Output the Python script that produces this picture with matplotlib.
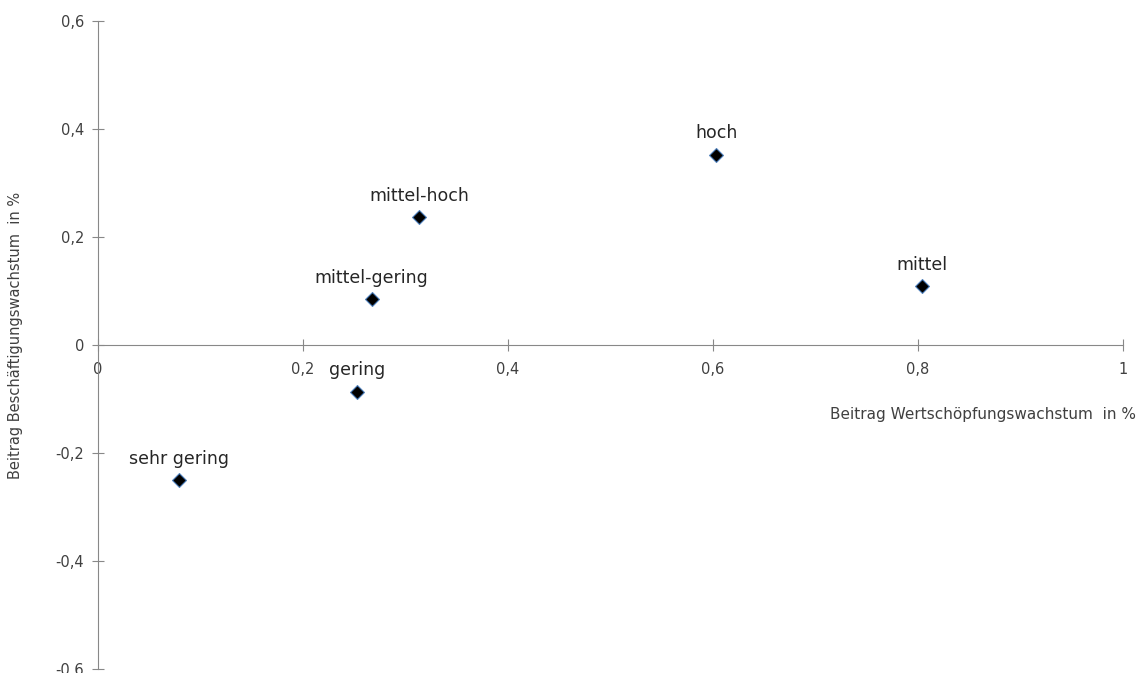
import matplotlib.pyplot as plt
from matplotlib.ticker import FuncFormatter

plt.rcParams['font.family'] = ['DejaVu Sans']

labels = ['sehr gering', 'gering', 'mittel-gering', 'mittel-hoch', 'hoch', 'mittel']
wert = [0.079, 0.253, 0.267, 0.313, 0.603, 0.804]
besch = [-0.25, -0.087, 0.085, 0.237, 0.352, 0.109]
xticks = [0, 0.2, 0.4, 0.6, 0.8, 1]
yticks = [-0.6, -0.4, -0.2, 0, 0.2, 0.4, 0.6]

fig = plt.figure(figsize=(11.38, 6.73), dpi=100)
ax = fig.add_axes([98 / 1138, 4 / 673, 1025 / 1138, 648 / 673])

ax.scatter(wert, besch, marker='D', s=50, facecolor='black', edgecolor='#4f81bd',
           linewidth=0.8, zorder=3)
for lab, x, y in zip(labels, wert, besch):
    ax.annotate(lab, (x, y), xytext=(0, 9), textcoords='offset points',
                ha='center', va='bottom', fontsize=12.5, color='#262626')

ax.set_xlim(0, 1)
ax.set_ylim(-0.6, 0.6)
ax.set_xticks(xticks)
ax.set_yticks(yticks)
fmt = FuncFormatter(lambda v, p: ('%g' % round(v, 1)).replace('.', ','))
ax.xaxis.set_major_formatter(fmt)
ax.yaxis.set_major_formatter(fmt)

for s in ['top', 'right']:
    ax.spines[s].set_visible(False)
ax.spines['left'].set_position(('data', 0))
ax.spines['bottom'].set_position(('data', 0))
for s in ['left', 'bottom']:
    ax.spines[s].set_color('#888888')
ax.tick_params(direction='inout', length=8, width=0.8, color='#888888',
               labelsize=10.5, labelcolor='#404040')
ax.tick_params(axis='x', pad=8)
ax.tick_params(axis='y', pad=6)
ax.set_facecolor('none')

fig.text(1136 / 1138, 1 - 415 / 673, 'Beitrag Wertschöpfungswachstum  in %',
         ha='right', va='center', fontsize=11, color='#404040')
fig.text(16 / 1138, 1 - 335 / 673, 'Beitrag Beschäftigungswachstum  in %',
         ha='center', va='center', rotation=90, fontsize=10.5, color='#404040')

fig.savefig('out.png', dpi=100)
